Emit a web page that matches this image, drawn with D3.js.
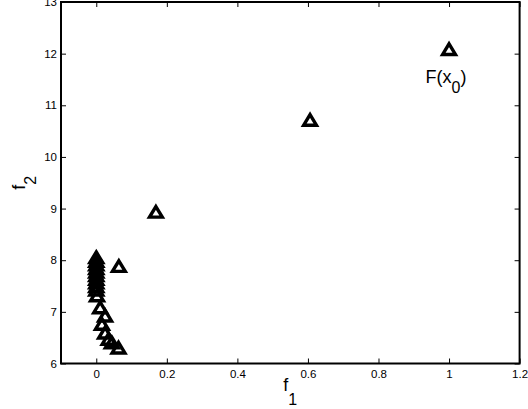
<!DOCTYPE html>
<html><head><meta charset="utf-8">
<script src="https://cdn.jsdelivr.net/npm/d3@7"></script>
<style>
html,body{margin:0;padding:0;background:#fff;}
svg{display:block;}
text{font-family:"Liberation Sans",Arial,Helvetica,sans-serif;fill:#000;}
</style></head>
<body>
<script>
// Data
const f1 = [0, 0, 0, 0, 0, 0, 0, 0, 0, 0, 0.002, 0.011, 0.025, 0.016, 0.025, 0.035, 0.044, 0.063, 0.064, 0.169, 0.606, 1.0];
const f2 = [8.07, 8.0, 7.93, 7.86, 7.79, 7.72, 7.65, 7.58, 7.51, 7.44, 7.33, 7.10, 6.94, 6.78, 6.61, 6.49, 6.42, 6.32, 7.90, 8.95, 10.73, 12.10];
const xTicks = [0, 0.2, 0.4, 0.6, 0.8, 1, 1.2];
const yTicks = [6, 7, 8, 9, 10, 11, 12, 13];
const xDomain = [-0.1, 1.2];
const yDomain = [6, 13];
const startLabel = {x: 1.0, y: 12.1, text: "F(x", sub: "0", tail: ")"};

const W = 528, H = 409;
const L = 61, R = 519.6, T = 2, B = 363.5;

const svg = d3.select("body").append("svg").attr("width", W).attr("height", H);
const x = d3.scaleLinear().domain(xDomain).range([L, R]);
const y = d3.scaleLinear().domain(yDomain).range([B, T]);

const fmt = d => String(d);

const gx = svg.append("g").attr("transform", `translate(0,${B})`)
  .call(d3.axisBottom(x).tickValues(xTicks).tickFormat(fmt).tickSizeInner(-5).tickSizeOuter(0).tickPadding(6));
const gxt = svg.append("g").attr("transform", `translate(0,${T})`)
  .call(d3.axisTop(x).tickValues(xTicks).tickFormat("").tickSizeInner(-5).tickSizeOuter(0));
const gy = svg.append("g").attr("transform", `translate(${L},0)`)
  .call(d3.axisLeft(y).tickValues(yTicks).tickFormat(fmt).tickSizeInner(-5).tickSizeOuter(0).tickPadding(4));
const gyr = svg.append("g").attr("transform", `translate(${R},0)`)
  .call(d3.axisRight(y).tickValues(yTicks).tickFormat("").tickSizeInner(-5).tickSizeOuter(0));

svg.selectAll(".domain").remove();
svg.selectAll(".tick line").attr("stroke", "#000").attr("stroke-width", 1);
svg.selectAll(".tick text").attr("font-size", 11.5).attr("fill", "#000");
gx.selectAll(".tick text").attr("dy", "0.71em");

svg.append("rect").attr("x", L).attr("y", T).attr("width", R - L).attr("height", B - T)
  .attr("fill", "none").attr("stroke", "#000").attr("stroke-width", 2);

// markers: open triangles
const tri = "M0,-4.6 L6.4,6.0 L-6.4,6.0 Z";
svg.append("g").selectAll("path").data(f1.map((v, i) => [v, f2[i]])).join("path")
  .attr("d", tri)
  .attr("transform", d => `translate(${x(d[0])},${y(d[1])})`)
  .attr("fill", "none").attr("stroke", "#000").attr("stroke-width", 3.4)
  .attr("stroke-linejoin", "miter").attr("stroke-miterlimit", 10);

const lt = svg.append("text").attr("x", x(startLabel.x) - 23.5).attr("y", y(startLabel.y) + 34.5)
  .attr("font-size", 18);
lt.append("tspan").text(startLabel.text);
lt.append("tspan").attr("font-size", 16).attr("dy", 10).text(startLabel.sub);
lt.append("tspan").attr("dy", -10).text(startLabel.tail);

const xl = svg.append("text").attr("x", (L + R) / 2).attr("y", 391).attr("text-anchor", "middle").attr("font-size", 18);
xl.append("tspan").text("f");
xl.append("tspan").attr("font-size", 16).attr("dy", 14).text("1");

const yl = svg.append("text").attr("transform", `translate(25,${(T + B) / 2}) rotate(-90)`)
  .attr("text-anchor", "middle").attr("font-size", 18);
yl.append("tspan").text("f");
yl.append("tspan").attr("font-size", 16).attr("dy", 11).text("2");
</script>
</body></html>
